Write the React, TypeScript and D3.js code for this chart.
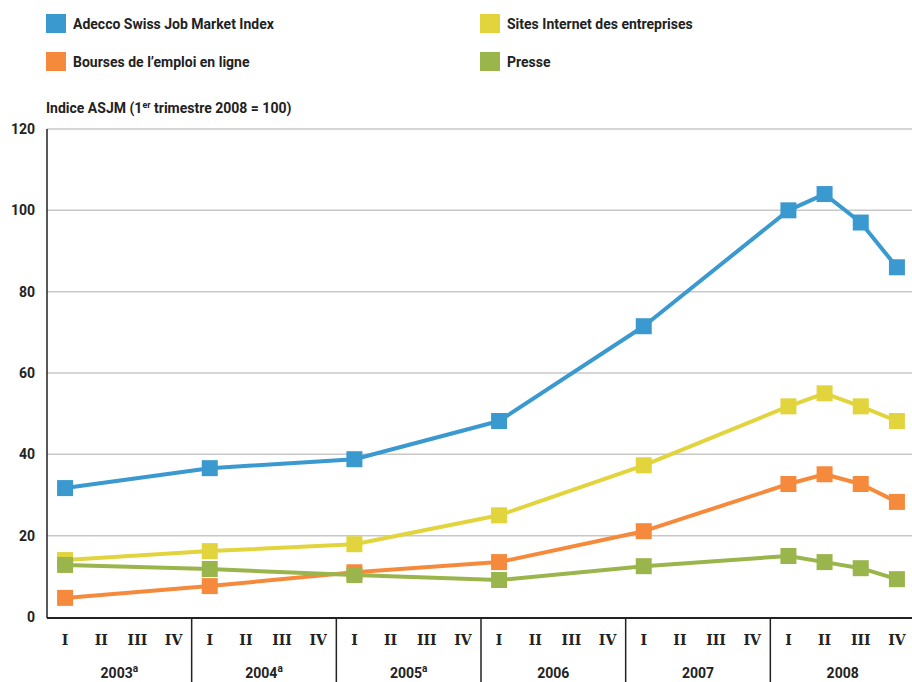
import React from "react";
import * as d3 from "d3";

const years = ["2003", "2004", "2005", "2006", "2007", "2008"];
const yearSup = ["a", "a", "a", "", "", ""];
const quarterLabels = ["I", "II", "III", "IV"];
const yTicks = [0, 20, 40, 60, 80, 100, 120];

// quarter index (0..23) -> value, null when no observation
const blue = [31.7, null, null, null, 36.6, null, null, null, 38.8, null, null, null, 48.2, null, null, null, 71.5, null, null, null, 100, 104, 97, 86];
const yellow = [14, null, null, null, 16.2, null, null, null, 17.9, null, null, null, 25, null, null, null, 37.3, null, null, null, 51.8, 55, 51.8, 48.2];
const orange = [4.7, null, null, null, 7.6, null, null, null, 11, null, null, null, 13.5, null, null, null, 21.1, null, null, null, 32.7, 35.1, 32.7, 28.3];
const green = [12.8, null, null, null, 11.8, null, null, null, 10.3, null, null, null, 9.1, null, null, null, 12.5, null, null, null, 15, 13.5, 12, 9.3];

const seriesNames = ["Adecco Swiss Job Market Index", "Bourses de l’emploi en ligne", "Sites Internet des entreprises", "Presse"];
const seriesColors = ["#3a99cf", "#f68a3c", "#e1d43c", "#9ab54c"];

const W = 912, H = 682;
const x0 = 47, xEnd = 915, yTop = 129, yBottom = 617;
const sans = "Roboto, 'Open Sans', sans-serif";

export default function App() {
  const x = d3.scaleLinear().domain([0, 24]).range([x0, xEnd]);
  const y = d3.scaleLinear().domain([0, 120]).range([yBottom, yTop]);
  const drawOrder = [
    { v: blue, c: seriesColors[0] },
    { v: yellow, c: seriesColors[2] },
    { v: orange, c: seriesColors[1] },
    { v: green, c: seriesColors[3] },
  ];
  const line = d3.line<[number, number]>().x((d) => x(d[0] + 0.5)).y((d) => y(d[1]));
  const legendPos = [
    { x: 46, y: 14 },
    { x: 46, y: 52 },
    { x: 480, y: 14 },
    { x: 480, y: 52 },
  ];
  const ms = 16;
  return (
    <svg width={W} height={H} style={{ position: "absolute", left: 0, top: 0, background: "#fff" }} fontFamily={sans}>
      {/* legend */}
      {seriesNames.map((n, i) => (
        <g key={n}>
          <rect x={legendPos[i].x} y={legendPos[i].y} width={20} height={19} fill={seriesColors[i]} />
          <text x={legendPos[i].x + 27} y={legendPos[i].y + 15} fontSize={14} fontWeight="bold" fill="#222">{n}</text>
        </g>
      ))}
      {/* axis title */}
      <text x={46} y={113} fontSize={14} fontWeight="bold" fill="#222">
        Indice ASJM (1<tspan fontSize={9} dy={-5}>er</tspan><tspan dy={5}> trimestre 2008 = 100)</tspan>
      </text>
      {/* grid */}
      {yTicks.filter((t) => t > 0).map((t) => (
        <line key={t} x1={x0} x2={W} y1={y(t)} y2={y(t)} stroke="#c8c8c8" strokeWidth={1.5} />
      ))}
      {yTicks.map((t) => (
        <text key={t} x={35} y={y(t) + 5} textAnchor="end" fontSize={14} fontWeight="bold" fill="#222">{t}</text>
      ))}
      {/* axes */}
      <line x1={x0} x2={x0} y1={yTop} y2={yBottom + 1} stroke="#222" strokeWidth={1.5} />
      <line x1={x0} x2={W} y1={yBottom + 1} y2={yBottom + 1} stroke="#222" strokeWidth={2} />
      {years.slice(1).map((yr, i) => (
        <line key={yr} x1={x((i + 1) * 4)} x2={x((i + 1) * 4)} y1={yBottom + 1} y2={H} stroke="#222" strokeWidth={1.5} />
      ))}
      {years.map((yr, yi) =>
        quarterLabels.map((q, qi) => (
          <text key={yr + q} x={x(yi * 4 + qi + 0.5)} y={645} textAnchor="middle" fontSize={14} fontWeight="bold" fontFamily="'DejaVu Serif', serif" fill="#222">{q}</text>
        ))
      )}
      {years.map((yr, yi) => (
        <text key={yr} x={x(yi * 4 + 2)} y={678} textAnchor="middle" fontSize={14} fontWeight="bold" fill="#222">
          {yr}
          {yearSup[yi] ? <tspan fontSize={10} dy={-6}>{yearSup[yi]}</tspan> : null}
        </text>
      ))}
      {/* series */}
      {drawOrder.map((s, si) => {
        const pts = s.v.map((v, i) => [i, v] as [number, number | null]).filter((d) => d[1] !== null) as [number, number][];
        return (
          <g key={si}>
            <path d={line(pts) || ""} fill="none" stroke={s.c} strokeWidth={4} strokeLinejoin="round" />
            {pts.map((d) => (
              <rect key={d[0]} x={x(d[0] + 0.5) - ms / 2} y={y(d[1]) - ms / 2} width={ms} height={ms} fill={s.c} />
            ))}
          </g>
        );
      })}
    </svg>
  );
}
